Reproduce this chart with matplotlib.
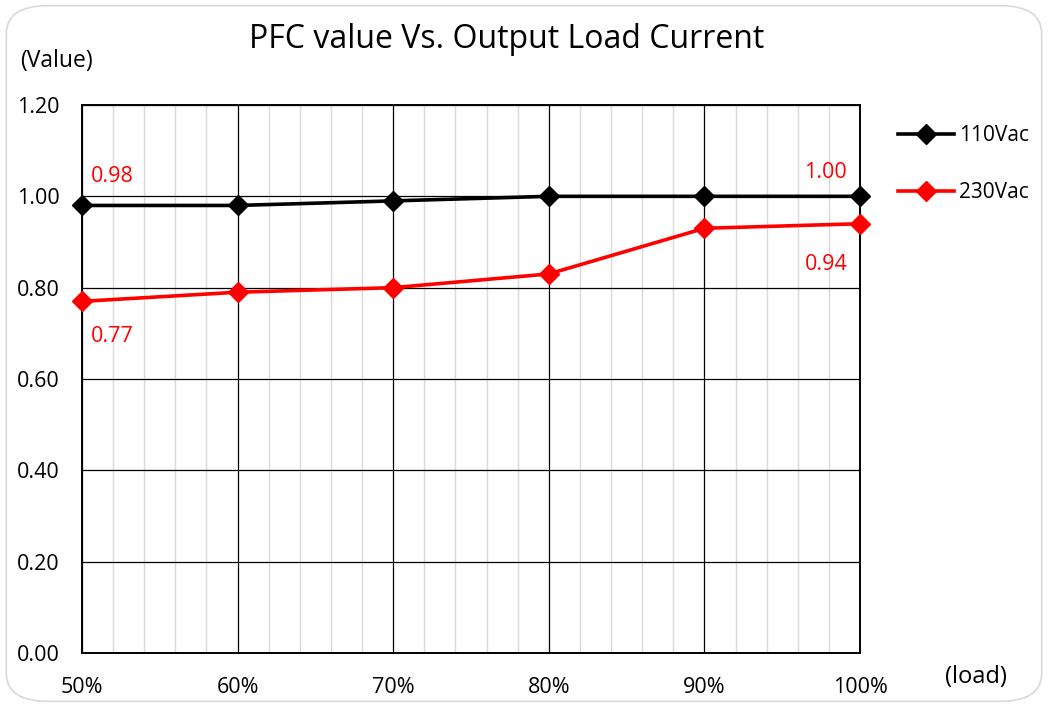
import numpy as np
import matplotlib.pyplot as plt
from matplotlib.patches import FancyBboxPatch
from matplotlib.ticker import MultipleLocator

plt.rcParams['font.family'] = ['Open Sans', 'DejaVu Sans']

load = [50, 60, 70, 80, 90, 100]
pfc_110 = [0.98, 0.98, 0.99, 1.00, 1.00, 1.00]
pfc_230 = [0.77, 0.79, 0.80, 0.83, 0.93, 0.94]
tick_labels = ['50%', '60%', '70%', '80%', '90%', '100%']

fig = plt.figure(figsize=(10.48, 7.07), dpi=100)
ax = fig.add_axes([0.0782, 0.0764, 0.7424, 0.7751])

# minor / major grid
ax.xaxis.set_minor_locator(MultipleLocator(2))
ax.grid(which='minor', axis='x', color='#d9d9d9', lw=1.0, zorder=0)
ax.grid(which='major', axis='both', color='black', lw=0.9, zorder=1)

ax.plot(load, pfc_110, color='black', lw=2.6, marker='D', markersize=10.5,
        label='110Vac', zorder=3, clip_on=False)
ax.plot(load, pfc_230, color='red', lw=2.6, marker='D', markersize=10.5,
        label='230Vac', zorder=3, clip_on=False)

ax.set_xlim(50, 100)
ax.set_ylim(0, 1.2)
ax.set_xticks(load)
ax.set_xticklabels(tick_labels)
ax.set_yticks(np.arange(0, 1.21, 0.2))
ax.set_yticklabels(['%.2f' % v for v in np.arange(0, 1.21, 0.2)])
ax.tick_params(axis='both', which='both', length=0, labelsize=15.5)
ax.tick_params(axis='x', pad=17)
ax.tick_params(axis='y', pad=16)
for s in ax.spines.values():
    s.set_color('black')
    s.set_linewidth(1.4)

# data labels
ax.text(51.93, 1.044, '0.98', color='red', fontsize=15.5, ha='center', va='center')
ax.text(97.8, 1.053, '1.00', color='red', fontsize=15.5, ha='center', va='center')
ax.text(97.8, 0.850, '0.94', color='red', fontsize=15.5, ha='center', va='center')
ax.text(51.93, 0.694, '0.77', color='red', fontsize=15.5, ha='center', va='center')

ax.legend(loc='upper left', bbox_to_anchor=(1.025, 0.998), frameon=False,
          fontsize=15, handlelength=2.7, labelspacing=1.75, handletextpad=0.2)

fig.text(0.483, 0.944, 'PFC value Vs. Output Load Current', fontsize=23,
         ha='center', va='center')
fig.text(0.019, 0.914, '(Value)', fontsize=16.5, ha='left', va='center')
fig.text(0.902, 0.043, '(load)', fontsize=17, ha='left', va='center')

border = FancyBboxPatch((0.006, 0.008), 0.988, 0.984,
                        boxstyle='round,pad=0,rounding_size=0.04',
                        transform=fig.transFigure, fill=False,
                        edgecolor='#d9d9d9', lw=1.2)
fig.patches.append(border)

plt.savefig('out.png', dpi=100)
